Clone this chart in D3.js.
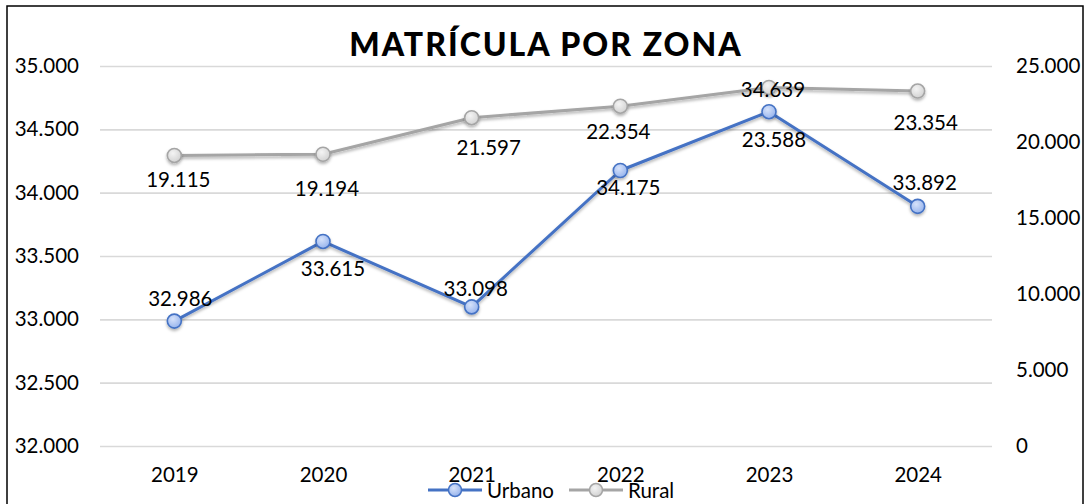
<!DOCTYPE html>
<html>
<head>
<meta charset="utf-8">
<script src="https://cdn.jsdelivr.net/npm/d3@7/dist/d3.min.js"></script>
<style>
  html, body { margin: 0; padding: 0; background: #fff; }
  svg { display: block; font-family: Lato, "Open Sans", sans-serif; }
</style>
</head>
<body>
<svg id="chart" width="1087" height="504"></svg>
<script>
// ---- data ----
const categories = ["2019", "2020", "2021", "2022", "2023", "2024"];
const urbano = [32986, 33615, 33098, 34175, 34639, 33892];
const rural = [19115, 19194, 21597, 22354, 23588, 23354];
const leftTicks = [32000, 32500, 33000, 33500, 34000, 34500, 35000];
const rightTicks = [0, 5000, 10000, 15000, 20000, 25000];
const title = "MATRÍCULA POR ZONA";
const seriesNames = ["Urbano", "Rural"];

// ---- label layout (offsets of label centre from its point) ----
const urbanoLabelOffset = [[6,-22],[10,27],[4,-18],[8,17],[4,-22],[7,-24]];
const ruralLabelOffset = [[4,24],[4,35],[17,30],[-2,26],[5,52],[8,32]];

const FS = 20.5;
const svg = d3.select("#chart");
const loc = d3.formatLocale({decimal: ",", thousands: ".", grouping: [3], currency: ["", ""]});
const fmt = loc.format(",d");

const x = d3.scalePoint().domain(categories).range([100, 992]).padding(0.5);
const yL = d3.scaleLinear().domain([32000, 35000]).range([446, 66]);
const yR = d3.scaleLinear().domain([0, 25000]).range([446, 66]);

// defs
const defs = svg.append("defs");
const f = defs.append("filter").attr("id", "shadow").attr("x", "-50%").attr("y", "-50%").attr("width", "200%").attr("height", "200%");
f.append("feDropShadow").attr("dx", 0).attr("dy", 2).attr("stdDeviation", 1.5).attr("flood-color", "#000").attr("flood-opacity", 0.3);
const gb = defs.append("radialGradient").attr("id", "gBlue").attr("cx", "40%").attr("cy", "35%").attr("r", "70%");
gb.append("stop").attr("offset", "0%").attr("stop-color", "#D6E2FA");
gb.append("stop").attr("offset", "100%").attr("stop-color", "#93B1EC");
const gg = defs.append("radialGradient").attr("id", "gGray").attr("cx", "40%").attr("cy", "35%").attr("r", "70%");
gg.append("stop").attr("offset", "0%").attr("stop-color", "#F4F4F4");
gg.append("stop").attr("offset", "100%").attr("stop-color", "#D0D0D0");

// gridlines
svg.append("g")
  .attr("transform", "translate(100,0)")
  .call(d3.axisLeft(yL).tickValues(leftTicks).tickSize(-892).tickFormat(""))
  .call(g => g.select(".domain").remove())
  .call(g => g.selectAll("line").attr("stroke", "#D9D9D9").attr("stroke-width", 1.6));

// left axis
svg.append("g")
  .attr("transform", "translate(79,0)")
  .call(d3.axisLeft(yL).tickValues(leftTicks).tickSize(0).tickPadding(0).tickFormat(fmt))
  .call(g => g.select(".domain").remove())
  .call(g => g.selectAll("text").attr("font-size", FS).attr("fill", "#000").attr("font-family", "Lato, sans-serif"));

// right axis
svg.append("g")
  .attr("transform", "translate(1016,0)")
  .call(d3.axisRight(yR).tickValues(rightTicks).tickSize(0).tickPadding(0).tickFormat(fmt))
  .call(g => g.select(".domain").remove())
  .call(g => g.selectAll("text").attr("font-size", FS).attr("fill", "#000").attr("font-family", "Lato, sans-serif"));

// x axis
svg.append("g")
  .attr("transform", "translate(0,467)")
  .call(d3.axisBottom(x).tickSize(0).tickPadding(0))
  .call(g => g.select(".domain").remove())
  .call(g => g.selectAll("text").attr("font-size", FS).attr("fill", "#000").attr("font-family", "Lato, sans-serif"));

// title
svg.append("text")
  .attr("x", 546).attr("y", 56)
  .attr("text-anchor", "middle")
  .attr("font-size", 32).attr("font-weight", 900)
  .attr("letter-spacing", 2)
  .attr("font-family", "Lato, sans-serif")
  .attr("fill", "#000")
  .text(title);

function drawSeries(vals, y, color, grad) {
  const line = d3.line().x((d, i) => x(categories[i])).y(d => y(d));
  svg.append("path").datum(vals)
    .attr("d", line).attr("fill", "none")
    .attr("stroke", color).attr("stroke-width", 3)
    .attr("stroke-linejoin", "round").attr("filter", "url(#shadow)");
  svg.append("g").selectAll("circle").data(vals).join("circle")
    .attr("cx", (d, i) => x(categories[i])).attr("cy", d => y(d))
    .attr("r", 7).attr("fill", `url(#${grad})`)
    .attr("stroke", color).attr("stroke-width", 1.6)
    .attr("filter", "url(#shadow)");
}
drawSeries(rural, yR, "#A5A5A5", "gGray");
drawSeries(urbano, yL, "#4472C4", "gBlue");

function drawLabels(vals, y, offs) {
  svg.append("g").selectAll("text").data(vals).join("text")
    .attr("x", (d, i) => x(categories[i]) + offs[i][0])
    .attr("y", (d, i) => y(d) + offs[i][1])
    .attr("dy", "0.35em")
    .attr("text-anchor", "middle")
    .attr("font-size", FS).attr("font-family", "Lato, sans-serif")
    .attr("fill", "#000")
    .text(d => fmt(d));
}
drawLabels(rural, yR, ruralLabelOffset);
drawLabels(urbano, yL, urbanoLabelOffset);

// legend
const legend = [
  {name: seriesNames[0], color: "#4472C4", grad: "gBlue", x0: 428},
  {name: seriesNames[1], color: "#A5A5A5", grad: "gGray", x0: 569}
];
const lg = svg.append("g");
legend.forEach(l => {
  lg.append("line").attr("x1", l.x0).attr("x2", l.x0 + 54).attr("y1", 490).attr("y2", 490)
    .attr("stroke", l.color).attr("stroke-width", 3);
  lg.append("circle").attr("cx", l.x0 + 27).attr("cy", 490).attr("r", 6.5)
    .attr("fill", `url(#${l.grad})`).attr("stroke", l.color).attr("stroke-width", 1.5);
  lg.append("text").attr("x", l.x0 + 59).attr("y", 490).attr("dy", "0.4em")
    .attr("font-size", FS).attr("font-family", "Lato, sans-serif").attr("fill", "#000")
    .text(l.name);
});

// border
svg.append("rect").attr("x", 7).attr("y", 6).attr("width", 1076).attr("height", 510)
  .attr("fill", "none").attr("stroke", "#000").attr("stroke-width", 1.5);
</script>
</body>
</html>
